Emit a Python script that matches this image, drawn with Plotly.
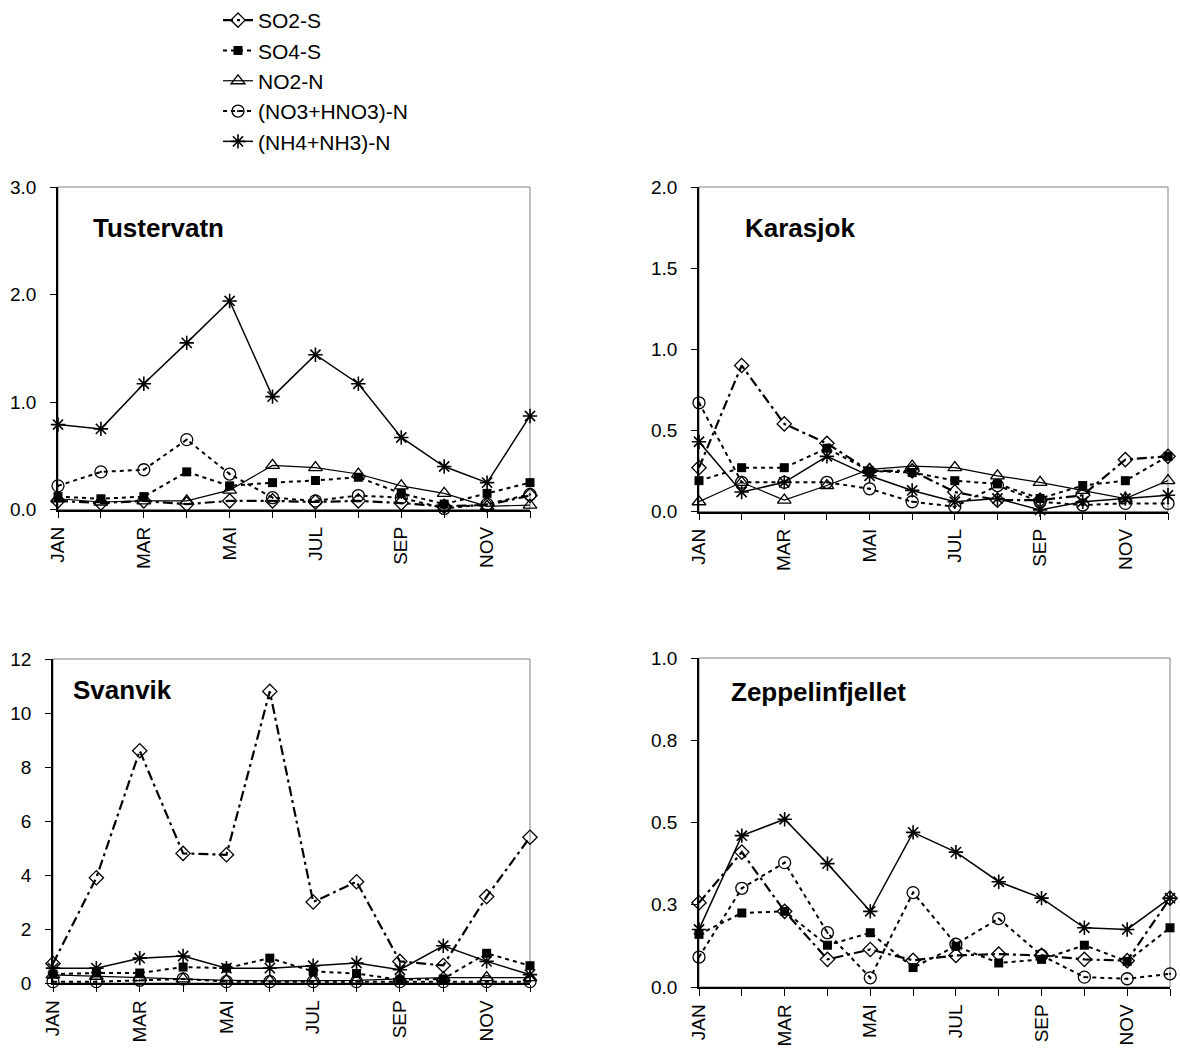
import plotly.graph_objects as go

MONTHS = ["JAN", "FEB", "MAR", "APR", "MAI", "JUN", "JUL", "AUG", "SEP", "OKT", "NOV", "DES"]
MONTH_LABELS = ["JAN", "", "MAR", "", "MAI", "", "JUL", "", "SEP", "", "NOV", ""]
SERIES = ["SO2-S", "SO4-S", "NO2-N", "(NO3+HNO3)-N", "(NH4+NH3)-N"]
STATIONS = ["Tustervatn", "Karasjok", "Svanvik", "Zeppelinfjellet"]

# Tustervatn
TUS_SO2 = [0.08, 0.06, 0.08, 0.05, 0.08, 0.08, 0.07, 0.08, 0.06, 0.03, 0.04, 0.13]
TUS_SO4 = [0.12, 0.10, 0.12, 0.35, 0.22, 0.25, 0.27, 0.30, 0.15, 0.05, 0.15, 0.25]
TUS_NO2 = [0.10, 0.07, 0.08, 0.08, 0.18, 0.41, 0.39, 0.33, 0.22, 0.15, 0.03, 0.04]
TUS_NO3 = [0.22, 0.35, 0.37, 0.65, 0.33, 0.11, 0.08, 0.13, 0.11, 0.01, 0.05, 0.14]
TUS_NH4 = [0.79, 0.75, 1.17, 1.55, 1.94, 1.05, 1.44, 1.17, 0.67, 0.40, 0.25, 0.87]

# Karasjok
KAR_SO2 = [0.27, 0.90, 0.54, 0.42, 0.25, 0.25, 0.12, 0.07, 0.07, 0.10, 0.32, 0.34]
KAR_SO4 = [0.19, 0.27, 0.27, 0.39, 0.25, 0.24, 0.19, 0.17, 0.08, 0.16, 0.19, 0.34]
KAR_NO2 = [0.06, 0.18, 0.07, 0.16, 0.26, 0.28, 0.27, 0.22, 0.18, 0.13, 0.08, 0.19]
KAR_NO3 = [0.67, 0.18, 0.18, 0.18, 0.14, 0.06, 0.03, 0.16, 0.06, 0.04, 0.05, 0.05]
KAR_NH4 = [0.43, 0.12, 0.18, 0.34, 0.22, 0.13, 0.06, 0.08, 0.01, 0.06, 0.08, 0.10]

# Svanvik
SVA_SO2 = [0.72, 3.9, 8.6, 4.8, 4.75, 10.8, 3.0, 3.75, 0.8, 0.65, 3.2, 5.4]
SVA_SO4 = [0.33, 0.37, 0.37, 0.59, 0.55, 0.92, 0.43, 0.35, 0.12, 0.15, 1.10, 0.64]
SVA_NO2 = [0.30, 0.25, 0.20, 0.15, 0.10, 0.08, 0.08, 0.10, 0.15, 0.20, 0.20, 0.20]
SVA_NO3 = [0.05, 0.05, 0.10, 0.15, 0.05, 0.05, 0.05, 0.05, 0.05, 0.05, 0.05, 0.05]
SVA_NH4 = [0.55, 0.55, 0.92, 1.00, 0.55, 0.55, 0.64, 0.74, 0.49, 1.38, 0.80, 0.31]

# Zeppelinfjellet (no NO2 measurements)
ZEP_SO2 = [0.256, 0.41, 0.23, 0.084, 0.114, 0.081, 0.096, 0.10, 0.096, 0.084, 0.08, 0.27]
ZEP_SO4 = [0.16, 0.225, 0.23, 0.127, 0.165, 0.059, 0.124, 0.073, 0.084, 0.127, 0.078, 0.18]
ZEP_NO2 = [None] * 12
ZEP_NO3 = [0.091, 0.30, 0.378, 0.165, 0.028, 0.287, 0.13, 0.208, 0.096, 0.03, 0.025, 0.04]
ZEP_NH4 = [0.175, 0.46, 0.51, 0.375, 0.23, 0.47, 0.41, 0.32, 0.27, 0.18, 0.175, 0.27]

STATION_DATA = [
    [TUS_SO2, TUS_SO4, TUS_NO2, TUS_NO3, TUS_NH4],
    [KAR_SO2, KAR_SO4, KAR_NO2, KAR_NO3, KAR_NH4],
    [SVA_SO2, SVA_SO4, SVA_NO2, SVA_NO3, SVA_NH4],
    [ZEP_SO2, ZEP_SO4, ZEP_NO2, ZEP_NO3, ZEP_NH4],
]

Y_RANGES = [[0, 3], [0, 2], [0, 12], [0, 1]]
Y_TICKVALS = [[0, 1, 2, 3], [0, 0.5, 1, 1.5, 2], [0, 2, 4, 6, 8, 10, 12], [0, 0.25, 0.5, 0.75, 1.0]]
Y_TICKTEXT = [["0.0", "1.0", "2.0", "3.0"], ["0.0", "0.5", "1.0", "1.5", "2.0"],
              ["0", "2", "4", "6", "8", "10", "12"], ["0.0", "0.3", "0.5", "0.8", "1.0"]]

W, H = 1180, 1053
FONT = "Liberation Sans, Arial, sans-serif"

# plot areas in pixels: (left, right, top, bottom)
AREAS = [(58, 530, 187, 509.5), (699, 1168, 187, 511.5), (53, 530, 659, 983), (699, 1170, 658, 987)]
LABEL_POS = [(91, 228), (743, 228), (71, 690), (729, 692)]

STYLES = [
    dict(line=dict(color="black", width=2.2, dash="10px,4px,3px,4px"),
         marker=dict(symbol="diamond-open", size=11, color="black", line=dict(width=1.3))),
    dict(line=dict(color="black", width=2, dash="4px,4px"),
         marker=dict(symbol="square", size=9, color="black")),
    dict(line=dict(color="black", width=1.2),
         marker=dict(symbol="triangle-up-open", size=12, color="black", line=dict(width=1.3))),
    dict(line=dict(color="black", width=2, dash="4px,4px"),
         marker=dict(symbol="circle-open-dot", size=12, color="black", line=dict(width=1.3))),
    dict(line=dict(color="black", width=1.5),
         marker=dict(symbol="asterisk-open", size=12, color="black", line=dict(width=1.6))),
]

fig = go.Figure()
layout = {}
shapes = []
annotations = []

for i, station in enumerate(STATIONS):
    l, r, t, b = AREAS[i]
    xn = "x" if i == 0 else f"x{i+1}"
    yn = "y" if i == 0 else f"y{i+1}"
    xk = "xaxis" if i == 0 else f"xaxis{i+1}"
    yk = "yaxis" if i == 0 else f"yaxis{i+1}"
    for s, name in enumerate(SERIES):
        fig.add_trace(go.Scatter(
            x=MONTHS, y=STATION_DATA[i][s], name=name, mode="lines+markers",
            xaxis=xn, yaxis=yn, legendgroup=name, showlegend=(i == 0),
            cliponaxis=False, connectgaps=False, **STYLES[s]))
    layout[xk] = dict(
        domain=[l / W, r / W], anchor=yn, type="category", range=[0, 11],
        categoryorder="array", categoryarray=MONTHS,
        tickmode="array", tickvals=MONTHS, ticktext=MONTH_LABELS,
        tickangle=-90, ticks="outside", ticklen=7, tickcolor="black", tickwidth=1,
        ticklabelstandoff=1,
        showline=True, linecolor="black", linewidth=1.5, showgrid=False, zeroline=False,
        tickfont=dict(family=FONT, size=19, color="black"), fixedrange=True)
    layout[yk] = dict(
        domain=[1 - b / H, 1 - t / H], anchor=xn, range=Y_RANGES[i],
        tickmode="array", tickvals=Y_TICKVALS[i], ticktext=Y_TICKTEXT[i],
        ticks="outside", ticklen=6, tickcolor="black", tickwidth=1,
        ticklabelstandoff=10,
        showline=True, linecolor="black", linewidth=1.5, showgrid=False, zeroline=False,
        tickfont=dict(family=FONT, size=19, color="black"), fixedrange=True)
    shapes.append(dict(type="rect", xref=f"{xn} domain", yref=f"{yn} domain",
                       x0=0, x1=1, y0=0, y1=1, line=dict(color="#808080", width=1),
                       layer="below"))
    lx, ly = LABEL_POS[i]
    annotations.append(dict(text=f"<b>{station}</b>", xref="paper", yref="paper",
                            x=lx / W, y=1 - ly / H, xanchor="left", yanchor="middle",
                            showarrow=False, font=dict(family=FONT, size=26, color="black")))

fig.update_layout(
    width=W, height=H, margin=dict(l=0, r=0, t=0, b=0, autoexpand=False),
    paper_bgcolor="white", plot_bgcolor="white",
    font=dict(family=FONT, size=19, color="black"),
    shapes=shapes, annotations=annotations,
    legend=dict(x=218 / W, y=1.0, xanchor="left", yanchor="top",
                font=dict(family=FONT, size=21, color="black"),
                bgcolor="rgba(0,0,0,0)", tracegroupgap=0, itemwidth=30),
    **layout)

fig.write_html("out.html", config={"displayModeBar": False},
               post_script="document.body.style.margin='0px'; document.body.style.overflow='hidden';")
